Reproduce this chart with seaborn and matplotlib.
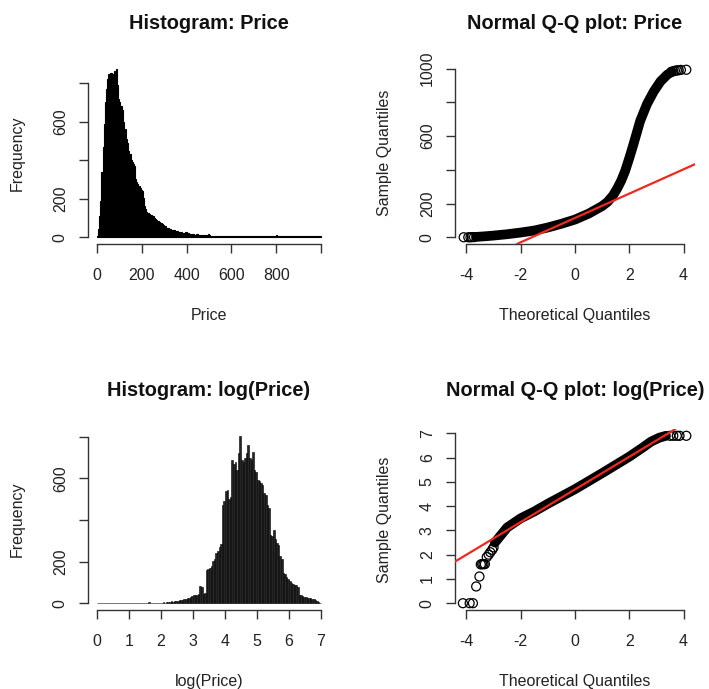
import matplotlib
matplotlib.use("Agg")
import matplotlib.pyplot as plt
import numpy as np
import pandas as pd
import seaborn as sns

# --- Histogram: Price (counts per 5-unit bin, 0 .. 1000) ---
PRICE_BIN = 5
PRICE_COUNTS = (
    [8, 45, 110, 190, 340, 470, 590, 700, 770, 820, 850, 840, 855, 835, 850, 865, 840, 875, 790, 720]
    + [700, 680, 660, 600, 555, 560, 510, 490, 450, 430, 400, 390, 380, 370, 300, 285, 275, 268, 255, 245]
    + [240, 205, 160, 145, 130, 125, 120, 115, 118, 110, 108, 98, 95, 88, 82, 80, 75, 72, 70, 64]
    + [60, 56, 50, 46, 44, 42, 40, 38, 40, 38, 33, 30, 29, 28, 26, 25, 23, 22, 24, 26]
    + [22, 20, 19, 18, 17, 15, 15, 14, 16, 16, 13, 12, 12, 11, 11, 10, 12, 13, 14, 15]
    + [11, 9, 8, 8, 8, 7, 7, 7, 6, 7, 7, 6, 6, 6, 5, 6, 6, 5, 6, 7]
    + [6, 5, 5, 5, 5, 5, 5, 4, 5, 5, 5, 5, 4, 5, 5, 5, 5, 5, 4, 5]
    + [5, 5, 5, 4, 5, 4, 5, 5, 4, 4, 5, 4, 4, 5, 4, 4, 5, 5, 6, 9]
    + [11, 6, 5, 4, 4, 4, 5, 4, 4, 4, 4, 4, 4, 4, 4, 5, 4, 4, 4, 5]
    + [5, 4, 4, 4, 4, 4, 4, 4, 4, 4, 4, 4, 4, 4, 4, 4, 4, 4, 5, 6]
)

# --- Histogram: log(Price) (counts per 0.05 bin, 0 .. 7) ---
LOG_BIN = 0.05
LOG_COUNTS = (
    [3, 0, 0, 0, 0, 0, 0, 0, 0, 0, 0, 0, 0, 0, 1, 0, 0, 0, 0, 0]
    + [0, 0, 3, 0, 0, 0, 0, 0, 1, 0, 0, 0, 5, 1, 2, 1, 2, 3, 2, 3]
    + [4, 5, 3, 6, 8, 6, 9, 8, 10, 12, 13, 15, 16, 18, 20, 22, 25, 28, 32, 35]
    + [38, 42, 40, 44, 85, 80, 45, 50, 160, 165, 170, 178, 205, 215, 240, 250, 270, 285, 470, 490]
    + [540, 545, 500, 510, 690, 670, 680, 640, 720, 805, 690, 680, 700, 720, 760, 700, 690, 725, 640, 630]
    + [590, 585, 580, 570, 530, 520, 470, 460, 330, 325, 350, 310, 290, 280, 225, 215, 145, 140, 125, 118]
    + [108, 100, 92, 90, 86, 80, 40, 38, 34, 32, 30, 28, 26, 24, 22, 20, 14, 10, 5, 2]
)

# --- Normal Q-Q: Price (dense band + isolated tail points) ---
QQ_PRICE_BAND_X = [-3.65, -3.3, -3.0, -2.5, -2.0, -1.5, -1.0, -0.5, 0.0, 0.5, 1.0,
                   1.2, 1.4, 1.55, 1.7, 1.85, 2.0, 2.15, 2.4, 2.65, 2.9, 3.15, 3.4, 3.55]
QQ_PRICE_BAND_Y = [2, 6, 10, 18, 28, 40, 58, 80, 105, 140, 185,
                   210, 248, 288, 335, 395, 470, 550, 690, 790, 865, 925, 965, 980]
QQ_PRICE_PTS_X = [-4.1, -3.93, -3.85, -3.8, -3.72, 3.55, 3.62, 3.68, 3.75, 3.82, 3.9, 4.1]
QQ_PRICE_PTS_Y = [0, 0, 0, 1, 1, 982, 985, 988, 990, 991, 993, 994]
QQ_PRICE_LINE = (114.6, 72.2)  # intercept, slope

# --- Normal Q-Q: log(Price) ---
QQ_LOG_BAND_X = [-2.95, -2.5, -2.0, -1.5, -1.0, -0.5, 0.0, 0.5, 1.0, 1.5, 2.0, 2.5, 2.8, 3.1, 3.35]
QQ_LOG_BAND_Y = [2.5, 3.12, 3.5, 3.78, 4.1, 4.4, 4.7, 5.03, 5.36, 5.7, 6.04, 6.42, 6.66, 6.82, 6.9]
QQ_LOG_PTS_X = [-4.13, -3.88, -3.76, -3.64, -3.52, -3.47, -3.42, -3.37, -3.32, -3.25,
                -3.18, -3.12, -3.05, -3.0, 3.5, 3.62, 3.75, 3.85, 4.1]
QQ_LOG_PTS_Y = [0, 0, 0, 0.69, 1.1, 1.6, 1.61, 1.61, 1.61, 1.9,
                2.0, 2.1, 2.2, 2.3, 6.9, 6.9, 6.9, 6.9, 6.9]
QQ_LOG_LINE = (4.69, 0.673)

# --- ticks (R drops labels that would overlap) ---
PRICE_XTICKS = [0, 200, 400, 600, 800, 1000]
PRICE_XLABELS = ["0", "200", "400", "600", "800", ""]
FREQ_YTICKS = [0, 200, 400, 600, 800]
FREQ_YLABELS = ["0", "200", "", "600", ""]
QQ_XTICKS = [-4, -2, 0, 2, 4]
QQ_XLABELS = ["-4", "-2", "0", "2", "4"]
QQ_PRICE_YTICKS = [0, 200, 400, 600, 800, 1000]
QQ_PRICE_YLABELS = ["0", "200", "", "600", "", "1000"]
LOG_XTICKS = [0, 1, 2, 3, 4, 5, 6, 7]
LOG_YTICKS = [0, 1, 2, 3, 4, 5, 6, 7]

FIG_W, FIG_H, DPI = 7.09, 6.89, 100
AXIS_COLOR = "#333333"
RED = "#f0281e"
TICK_SIZE = 11.5
TITLE_SIZE = 14.4


def r_axes(fig, rect_px, xticks, xlabels, yticks, ylabels, xlim, ylim):
    """Axes placed in pixels, styled like R base graphics."""
    left, top, w, h = rect_px
    ax = fig.add_axes([left / 709, 1 - (top + h) / 689, w / 709, h / 689])
    ax.set_xlim(xlim)
    ax.set_ylim(ylim)
    ax.set_xticks(xticks, xlabels)
    ax.set_yticks(yticks, ylabels)
    for side in ("top", "right"):
        ax.spines[side].set_visible(False)
    for side in ("left", "bottom"):
        ax.spines[side].set_color(AXIS_COLOR)
        ax.spines[side].set_linewidth(1.0)
    ax.spines["left"].set_bounds(yticks[0], yticks[-1])
    ax.spines["bottom"].set_bounds(xticks[0], xticks[-1])
    ax.tick_params(bottom=True, left=True, top=False, right=False,
                   direction="out", length=6.5, width=1.0, pad=8,
                   labelsize=TICK_SIZE, color=AXIS_COLOR, labelcolor="#222222")
    ax.tick_params(axis="x", pad=10.5)
    for lab in ax.get_yticklabels():
        lab.set_rotation(90)
        lab.set_va("center")
    ax.grid(False)
    return ax, w, h


def label(ax, w, h, title, xlabel, ylabel):
    ax.set_title(title, fontsize=TITLE_SIZE, fontweight="bold", pad=24, color="#111111")
    ax.set_xlabel(xlabel, fontsize=TICK_SIZE, color="#222222")
    ax.set_ylabel(ylabel, fontsize=TICK_SIZE, color="#222222")
    ax.xaxis.set_label_coords(0.5, -64 / h)
    ax.yaxis.set_label_coords(-63 / w, 0.5)


def hist_panel(ax, counts, width, face, edge_lw):
    mids = (np.arange(len(counts)) + 0.5) * width
    df = pd.DataFrame({"x": mids, "n": counts})
    sns.histplot(data=df, x="x", weights="n", binwidth=width,
                 binrange=(0, len(counts) * width), ax=ax, color=face,
                 edgecolor="black", linewidth=edge_lw, alpha=1.0)


def qq_panel(ax, band_x, band_y, pts_x, pts_y, line):
    sns.lineplot(x=band_x, y=band_y, ax=ax, color="black", linewidth=7.0,
                 sort=False, estimator=None, solid_capstyle="round",
                 solid_joinstyle="round")
    sns.scatterplot(x=pts_x, y=pts_y, ax=ax, marker="o", s=42,
                    facecolor="none", edgecolor="black", linewidth=0.9, zorder=3)
    ax.axline((0, line[0]), slope=line[1], color=RED, linewidth=1.6, zorder=4)


def main():
    sns.set_theme(style="ticks")
    plt.rcParams["font.family"] = ["Liberation Sans", "DejaVu Sans"]

    fig = plt.figure(figsize=(FIG_W, FIG_H), dpi=DPI)

    # top-left: Price histogram
    ax, w, h = r_axes(fig, (88, 62, 242, 182), PRICE_XTICKS, PRICE_XLABELS,
                      FREQ_YTICKS, FREQ_YLABELS, (-40, 1040), (-35, 910))
    hist_panel(ax, PRICE_COUNTS, PRICE_BIN, "black", 0.8)
    label(ax, w, h, "Histogram: Price", "Price", "Frequency")

    # top-right: Q-Q Price
    ax, w, h = r_axes(fig, (455, 62, 240, 182), QQ_XTICKS, QQ_XLABELS,
                      QQ_PRICE_YTICKS, QQ_PRICE_YLABELS, (-4.42, 4.42), (-40, 1040))
    qq_panel(ax, QQ_PRICE_BAND_X, QQ_PRICE_BAND_Y, QQ_PRICE_PTS_X, QQ_PRICE_PTS_Y,
             QQ_PRICE_LINE)
    label(ax, w, h, "Normal Q-Q plot: Price", "Theoretical Quantiles", "Sample Quantiles")

    # bottom-left: log(Price) histogram
    ax, w, h = r_axes(fig, (88, 429, 242, 181), LOG_XTICKS, [str(t) for t in LOG_XTICKS],
                      FREQ_YTICKS, FREQ_YLABELS, (-0.28, 7.28), (-32, 837))
    hist_panel(ax, LOG_COUNTS, LOG_BIN, "#262626", 0.4)
    label(ax, w, h, "Histogram: log(Price)", "log(Price)", "Frequency")

    # bottom-right: Q-Q log(Price)
    ax, w, h = r_axes(fig, (455, 429, 240, 181), QQ_XTICKS, QQ_XLABELS,
                      LOG_YTICKS, [str(t) for t in LOG_YTICKS], (-4.42, 4.42), (-0.28, 7.18))
    qq_panel(ax, QQ_LOG_BAND_X, QQ_LOG_BAND_Y, QQ_LOG_PTS_X, QQ_LOG_PTS_Y, QQ_LOG_LINE)
    label(ax, w, h, "Normal Q-Q plot: log(Price)", "Theoretical Quantiles", "Sample Quantiles")

    fig.savefig("out.png", dpi=DPI, facecolor="white")
    plt.close(fig)


if __name__ == "__main__":
    main()
